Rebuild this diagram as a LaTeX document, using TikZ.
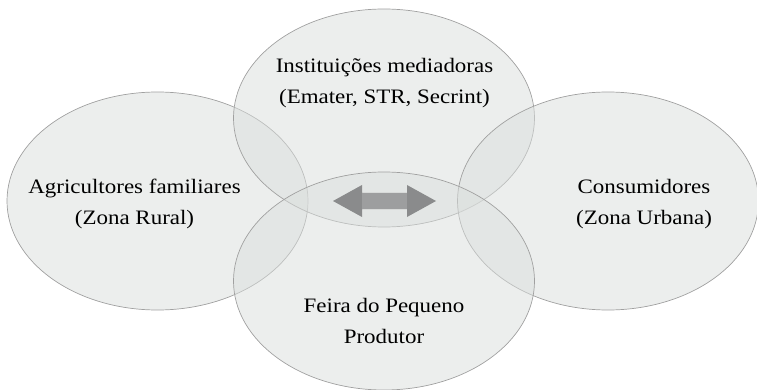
\documentclass[tikz,border=0pt]{standalone}
\usepackage{fontspec}
\setmainfont{Liberation Serif}[FakeStretch=1.12]
\usepackage{xcolor}
\usepackage{tikz}
\usetikzlibrary{shapes.geometric}
\definecolor{blobfill}{RGB}{218,222,220}
\definecolor{blobline}{RGB}{160,160,160}
\definecolor{arrowdark}{RGB}{138,139,140}
\definecolor{arrowlight}{RGB}{157,158,159}

\begin{document}
\begin{tikzpicture}[x=1pt, y=-1pt,
    blob/.style={draw=blobline, line width=0.7pt, ellipse, fill=blobfill, fill opacity=0.5,
                 minimum width=301pt, minimum height=218pt, inner sep=0pt},
    caption/.style={align=center, text=black, font=\fontsize{20.5}{31}\selectfont}]
                    \useasboundingbox (0,0) rectangle (757,390);
                    \node[blob] (agric) at (157.5,201) {};
                    \node[blob] (inst) at (384,118) {};
                    \node[blob] (consum) at (608,201) {};
                    \node[blob] (feira) at (384,281) {};

                    \node[caption] (agrictext) at (134.5,204) {Agricultores familiares\\(Zona Rural)};
                    \node[caption] (insttext) at (384.5,83) {Instituições mediadoras\\(Emater, STR, Secrint)};
                    \node[caption] (consumtext) at (644,204) {Consumidores\\(Zona Urbana)};
                    \node[caption] (feiratext) at (384,320.5) {Feira do Pequeno\\Produtor};

                    % troca entre os dois lados
                    \coordinate (swap) at (384.5,201);
                    \fill[arrowdark] ([xshift=-51.5pt]swap) -- ++(29,-16) -- ++(0,8) -- ++(45,0) -- ++(0,-8)
                        -- ++(29,16) -- ++(-29,16) -- ++(0,-8) -- ++(-45,0) -- ++(0,8) -- cycle;
                    \fill[arrowlight] ([xshift=-22.5pt,yshift=8pt]swap) rectangle ([xshift=22.5pt,yshift=-8pt]swap);
                \end{tikzpicture}
\end{document}
